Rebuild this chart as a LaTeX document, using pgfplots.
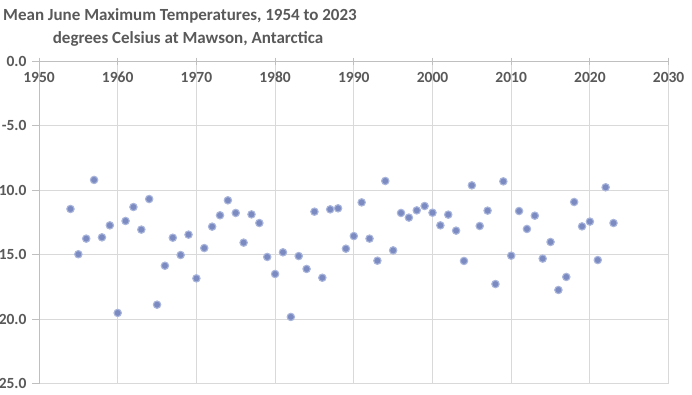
\documentclass[border=0pt]{standalone}
\usepackage{pgfplots}
\pgfplotsset{compat=1.18}
\usepackage{fontspec}
\setmainfont{Carlito}
\definecolor{txt}{HTML}{595959}
\definecolor{grd}{HTML}{D9D9D9}
\definecolor{axl}{HTML}{BFBFBF}
\definecolor{mk}{HTML}{7B8BC2}
\definecolor{mkedge}{HTML}{A9B5DB}
\begin{document}
\begin{tikzpicture}
\path[use as bounding box] (0bp,0bp) rectangle (692bp,-395bp);
\node[anchor=base, font=\fontsize{17bp}{21bp}\selectfont\bfseries, text=txt, inner sep=0pt] at (180bp,-20bp) {Mean June Maximum Temperatures, 1954 to 2023};
\node[anchor=base, font=\fontsize{17bp}{21bp}\selectfont\bfseries, text=txt, inner sep=0pt] at (188bp,-43bp) {degrees Celsius at Mawson, Antarctica};
\begin{axis}[
  at={(39bp,-383.5bp)}, anchor=south west,
  scale only axis, width=629.6bp, height=322.5bp,
  xmin=1950, xmax=2030, ymin=-25, ymax=0,
  xtick={1950,1960,...,2030}, ytick={-25,-20,...,0},
  axis x line*=top, axis y line*=left,
  axis line style={axl, line width=0.9bp},
  every tick/.style={axl, line width=0.9bp},
  major tick length=7bp,
  xtick align=center, ytick align=outside,
  grid=major, major grid style={grd, line width=0.9bp},
  /pgf/number format/assume math mode=true,
  xticklabel style={/pgf/number format/1000 sep={}, anchor=north, yshift=-11bp, font=\fontsize{15.5bp}{18bp}\selectfont\bfseries, text=txt},
  yticklabel style={/pgf/number format/fixed, /pgf/number format/fixed zerofill, /pgf/number format/precision=1, xshift=-2bp, font=\fontsize{15.5bp}{18bp}\selectfont\bfseries, text=txt},
  clip=false,
]
\addplot[only marks, mark=*, mark size=3.7bp, mark options={fill=mk, draw=mkedge, line width=1.1bp}] coordinates {
(1954,-11.47) (1955,-14.98) (1956,-13.77) (1957,-9.22) (1958,-13.67) (1959,-12.74)
(1960,-19.53) (1961,-12.40) (1962,-11.32) (1963,-13.07) (1964,-10.70) (1965,-18.89)
(1966,-15.87) (1967,-13.70) (1968,-15.04) (1969,-13.46) (1970,-16.85) (1971,-14.50)
(1972,-12.84) (1973,-11.96) (1974,-10.80) (1975,-11.78) (1976,-14.08) (1977,-11.89)
(1978,-12.56) (1979,-15.19) (1980,-16.51) (1981,-14.83) (1982,-19.84) (1983,-15.12)
(1984,-16.12) (1985,-11.68) (1986,-16.80) (1987,-11.50) (1988,-11.42) (1989,-14.55)
(1990,-13.57) (1991,-10.96) (1992,-13.77) (1993,-15.48) (1994,-9.30) (1995,-14.68)
(1996,-11.78) (1997,-12.14) (1998,-11.58) (1999,-11.24) (2000,-11.76) (2001,-12.74)
(2002,-11.91) (2003,-13.15) (2004,-15.50) (2005,-9.64) (2006,-12.79) (2007,-11.60)
(2008,-17.29) (2009,-9.33) (2010,-15.09) (2011,-11.63) (2012,-13.02) (2013,-11.99)
(2014,-15.32) (2015,-14.03) (2016,-17.75) (2017,-16.74) (2018,-10.93) (2019,-12.82)
(2020,-12.45) (2021,-15.43) (2022,-9.79) (2023,-12.56)
};
\end{axis}
\end{tikzpicture}
\end{document}
